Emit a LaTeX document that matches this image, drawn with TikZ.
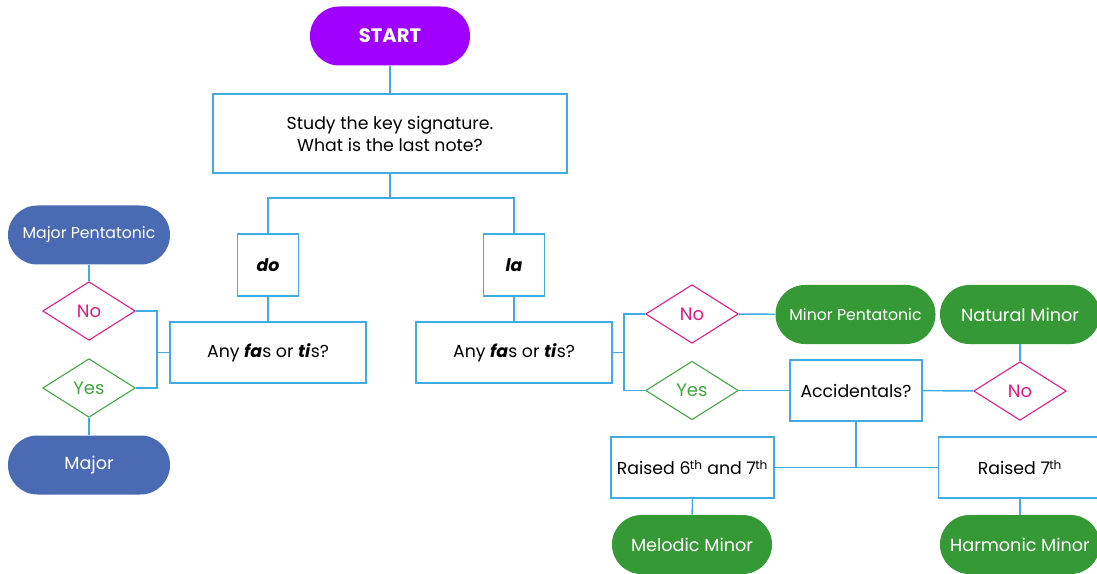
\documentclass[tikz,border=0pt]{standalone}
\usepackage{fontspec}
\setmainfont{Poppins}
\usetikzlibrary{shapes.geometric}
\definecolor{linkblue}{HTML}{41ACE3}
\definecolor{nopink}{HTML}{E5197F}
\definecolor{yesgreen}{HTML}{3FA63F}
\definecolor{pillgreen}{HTML}{359A35}
\definecolor{pillblue}{HTML}{4A6BB3}
\definecolor{startpurple}{HTML}{A000FF}
\tikzset{
  link/.style={draw=linkblue, line width=1.1pt},
  stepbox/.style={draw=linkblue, line width=1.1pt, fill=white, align=center,
    inner sep=2pt, font=\fontsize{13}{16.5}\selectfont},
  pill/.style={rounded corners=22pt, minimum width=120pt, minimum height=44.25pt,
    text=white, inner sep=0pt, font=\fontsize{13.2}{16}\selectfont},
  choice/.style={diamond, draw, line width=0.8pt, fill=white, inner sep=0pt,
    minimum width=69.5pt, minimum height=44pt, font=\fontsize{13.5}{16}\selectfont},
  nochoice/.style={choice, draw=nopink, text=nopink},
  yeschoice/.style={choice, draw=yesgreen, text=yesgreen},
}
\newcommand{\syl}[1]{\textbf{\textit{#1}}}
\newcommand{\ordsup}[1]{\textsuperscript{\kern-0.5pt#1}}
\begin{document}
\begin{tikzpicture}[x=0.75pt, y=-0.75pt]
    \useasboundingbox (0,0) rectangle (1097,574);
    % Start and first question
    \node[pill, fill=startpurple, font=\fontsize{14.6}{17}\bfseries] (start) at (390,36) {START};
    \node[stepbox, minimum width=265.5pt, minimum height=59.25pt] (study) at (390,133.5)
        {Study the key signature.\\What is the last note?};
    \node[stepbox, minimum width=45.75pt, minimum height=46.5pt] (do) at (268,265) {\syl{do}};
    \node[stepbox, minimum width=45.75pt, minimum height=46.5pt] (la) at (514,265) {\syl{la}};
    \node[stepbox, minimum width=147pt, minimum height=45.75pt] (anyL) at (268,352.5)
        {Any \syl{fa}s or \syl{ti}s?};
    \node[stepbox, minimum width=147pt, minimum height=45.75pt] (anyR) at (514,352.5)
        {Any \syl{fa}s or \syl{ti}s?};
    % Major side
    \node[nochoice] (noL) at (89,311) {No};
    \node[yeschoice] (yesL) at (89,388) {Yes};
    \node[pill, fill=pillblue, minimum width=121.5pt, font=\fontsize{11.8}{14}\selectfont] (majpent) at (89,235) {Major Pentatonic};
    \node[pill, fill=pillblue, minimum width=121.5pt] (major) at (89,465) {Major};
    % Minor side
    \node[nochoice] (noR) at (692,314) {No};
    \node[yeschoice] (yesR) at (692,390.5) {Yes};
    \node[pill, fill=pillgreen, font=\fontsize{11.8}{14}\selectfont] (minpent) at (855.5,314.5) {Minor Pentatonic};
    \node[pill, fill=pillgreen] (natmin) at (1020,314.5) {Natural Minor};
    \node[stepbox, minimum width=99pt, minimum height=45.75pt] (acc) at (856,390.5) {Accidentals?};
    \node[nochoice] (noA) at (1020,391) {No};
    \node[stepbox, minimum width=122pt, minimum height=45.75pt] (raised6) at (692.5,467.5)
        {Raised 6\ordsup{th} and 7\ordsup{th}};
    \node[stepbox, minimum width=122pt, minimum height=45.75pt] (raised7) at (1020,467.5)
        {Raised 7\ordsup{th}};
    \node[pill, fill=pillgreen] (melmin) at (692,544.5) {Melodic Minor};
    \node[pill, fill=pillgreen] (harmin) at (1020,544.5) {Harmonic Minor};
    % Connectors
    \coordinate (forkT) at (390,198);
    \coordinate (forkL) at (157,352.5);
    \coordinate (forkR) at (624,352.5);
    \draw[link] (start) -- (study);
    \draw[link] (study) -- (forkT) -| (do);
    \draw[link] (forkT) -| (la);
    \draw[link] (do) -- (anyL);
    \draw[link] (la) -- (anyR);
    \draw[link] (anyL) -- (forkL) |- (noL);
    \draw[link] (forkL) |- (yesL);
    \draw[link] (majpent) -- (noL);
    \draw[link] (yesL) -- (major);
    \draw[link] (anyR) -- (forkR) |- (noR);
    \draw[link] (forkR) |- (yesR);
    \draw[link] (noR) -- (minpent);
    \draw[link] (yesR) -- (acc);
    \draw[link] (acc) -- (noA);
    \draw[link] (natmin) -- (noA);
    \draw[link] (acc) |- (raised6);
    \draw[link] (acc) |- (raised7);
    \draw[link] (raised6) -- (melmin);
    \draw[link] (raised7) -- (harmin);
\end{tikzpicture}
\end{document}
